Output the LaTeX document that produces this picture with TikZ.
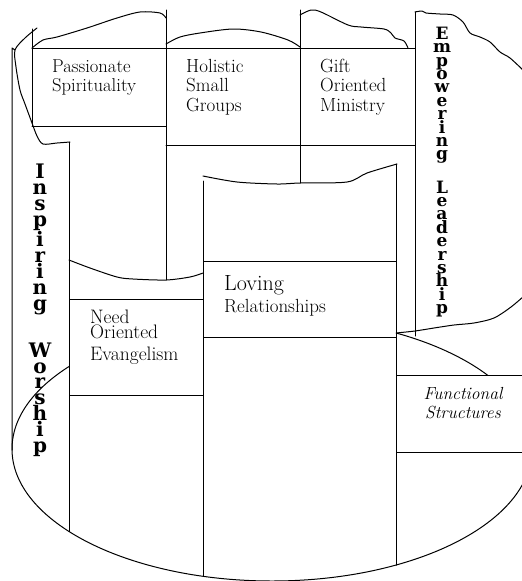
\documentclass[tikz,border=0pt]{standalone}
\usepackage{fontspec}
\usepackage{xcolor}
\usepackage{tikz}
\newfontfamily\stackfont{DejaVu Serif}
\definecolor{paper}{HTML}{FFFFFF}
\definecolor{ink}{HTML}{000000}
\tikzset{
  wall/.style={draw=ink, line width=1pt, line cap=round, line join=round},
  cover/.style={wall, fill=paper},
  lab/.style={anchor=base west, inner sep=0pt, align=left, text=ink, font=\fontsize{19}{19.5}\selectfont},
  labit/.style={anchor=base, inner sep=0pt, align=center, text=ink, font=\fontsize{17.5}{19.5}\selectfont\itshape},
  pillar/.style={anchor=base, inner sep=0pt, align=center, text=ink, font=\stackfont\bfseries\fontsize{20}{15.9}\selectfont},
  pillarsm/.style={pillar, font=\stackfont\bfseries\fontsize{17}{13.4}\selectfont},
}

\begin{document}
\begin{tikzpicture}[x=1pt, y=-1pt]
  \useasboundingbox (0,0) rectangle (522,581);
  \clip (0,0) rectangle (522,581);
  % base of the building
  \draw[wall] (272,449) ellipse [x radius=260pt, y radius=132pt];
  \draw[cover] (69,299) rectangle (203,395);
  \draw[cover] (203,261) rectangle (396,337);
  \draw[cover] (396,375) rectangle (530,452);
  % ragged tops
  \draw[wall] (12,450) -- (12,48) -- (15,50);
  \draw[wall] plot[smooth] coordinates {(37,28) (25,38) (15,50) (16,67) (20,90) (25,104) (32,123) (37,136) (43,144) (57,143) (70,142)};
  \draw[wall] plot[smooth] coordinates {(32,48) (43,40) (57,37) (87,28) (117,18) (140,12) (160,13) (166,18)};
  \draw[wall] plot[smooth] coordinates {(166,44) (180,37) (200,33) (233,29) (261,32) (288,40) (300,47)};
  \draw[wall] plot[smooth] coordinates {(300,15) (311,10) (321,12) (348,25) (361,27) (384,29) (391,33) (395,38) (404,41) (408,48)};
  \draw[wall] plot[smooth] coordinates {(415,12) (422,11) (426,13) (440,14) (453,15) (463,22) (470,33) (480,37) (490,42) (500,52) (510,58) (524,71)};
  \draw[wall] plot[smooth] coordinates {(524,296) (511,307) (494,318) (474,323) (454,325) (434,328) (415,331) (396,333)};
  \draw[wall] plot[smooth] coordinates {(69,260) (90,268) (117,277) (133,279) (166,280) (190,277) (203,273)};
  \draw[wall] plot[smooth] coordinates {(203,176) (237,182) (277,184) (300,183) (347,182) (367,173) (397,164)};
  % columns
  \draw[wall] (32,29) -- (32,126);
  \draw[wall] (166,10) -- (166,280);
  \draw[wall] (300,10) -- (300,183);
  \draw[wall] (415,12) -- (415,336);
  \draw[wall] (69,142) -- (69,531.5);
  \draw[wall] (203,181) -- (203,576.3);
  \draw[wall] (396,164) -- (396,565);
  \draw[wall] (32,48) -- (415,48);
  \draw[wall] (32,126) -- (166,126);
  \draw[wall] (166,145) -- (415,145);
  % labels (anchored on their last line)
  \node[lab, font=\fontsize{18.6}{19.5}\selectfont] (spirit) at (52,91.5) {Passionate\\Spirituality};
  \node[lab] (groups) at (186,111) {Holistic\\Small\\Groups};
  \node[lab] (gifts) at (320,111) {Gift\\Oriented\\Ministry};
  \node[lab, font=\fontsize{19.5}{15.5}\selectfont] (evang) at (90,360) {Need\\Oriented\\[6pt]Evangelism};
  \node[lab, font=\fontsize{22}{22}\selectfont] (loving) at (224,290) {Loving};
  \node[lab] (relat) at (224,312) {Relationships};
  \node[labit] (struct) at (463,418.5) {Functional\\Structures};
  \node[pillar] (worship) at (40,452.5) {I\\n\\s\\p\\i\\r\\i\\n\\g\\[27pt]W\\o\\r\\s\\h\\i\\p};
  \node[pillarsm] (leader) at (442,313.6) {E\\m\\p\\o\\w\\e\\r\\i\\n\\g\\[16pt]L\\e\\a\\d\\e\\r\\s\\h\\i\\p};
\end{tikzpicture}
\end{document}
